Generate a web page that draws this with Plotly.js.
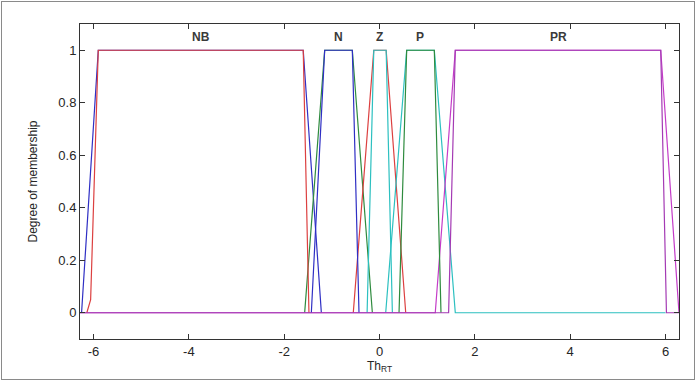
<!DOCTYPE html>
<html>
<head>
<meta charset="utf-8">
<script src="https://cdn.plot.ly/plotly-3.0.1.min.js"></script>
<style>
html,body{margin:0;padding:0;background:#fff;}
#wrap{position:relative;width:696px;height:381px;}
#chart{width:696px;height:381px;}
#frame{position:absolute;left:1px;top:1px;width:692px;height:377px;border:1px solid #8a8a8a;pointer-events:none;}
</style>
</head>
<body>
<div id="wrap"><div id="chart"></div><div id="frame"></div></div>
<script>
// Membership function names
const mfNames = ['NB', 'N', 'Z', 'P', 'PR'];

// Set A (wider slopes)
const nbA_x = [-6.25, -5.9, -1.6, -1.22];
const nbA_y = [0, 1, 1, 0];
const nA_x = [-1.57, -1.15, -0.57, -0.15];
const nA_y = [0, 1, 1, 0];
const zA_x = [-0.55, -0.12, 0.14, 0.55];
const zA_y = [0, 1, 1, 0];
const pA_x = [0.13, 0.57, 1.15, 1.59, 6.0];
const pA_y = [0, 1, 1, 0, 0];
const prA_x = [-6.2832, 1.17, 1.59, 5.9, 6.2832];
const prA_y = [0, 0, 1, 1, 0];

// Set B (narrower slopes)
const nbB_x = [-6.14, -6.06, -5.9, -1.6, -1.48];
const nbB_y = [0, 0.05, 1, 1, 0];
const nB_x = [-1.43, -1.15, -0.57, -0.43];
const nB_y = [0, 1, 1, 0];
const zB_x = [-0.26, -0.12, 0.14, 0.27];
const zB_y = [0, 1, 1, 0];
const pB_x = [0.41, 0.57, 1.15, 1.29];
const pB_y = [0, 1, 1, 0];
const prB_x = [-6.2832, 1.45, 1.59, 5.9, 6.02, 6.2832];
const prB_y = [0, 0, 1, 1, 0, 0];

const xTicks = [-6, -4, -2, 0, 2, 4, 6];
const yTicks = [0, 0.2, 0.4, 0.6, 0.8, 1];
const yTickText = ['0', '0.2', '0.4', '0.6', '0.8', '1'];

const colors = {
  blue: '#2f2fc4', green: '#2e8b3e', red: '#dc4040',
  cyan: '#2cc0c0', magenta: '#c43cc8', purple: '#a43ab4'
};

function tr(x, y, c) {
  return {x: x, y: y, type: 'scatter', mode: 'lines',
    line: {color: c, width: 1.2}, hoverinfo: 'skip', showlegend: false};
}

const traces = [
  tr(nbA_x, nbA_y, colors.blue),
  tr(nA_x, nA_y, colors.green),
  tr(zA_x, zA_y, colors.red),
  tr(pA_x, pA_y, colors.cyan),
  tr(prA_x, prA_y, colors.magenta),
  tr(nbB_x, nbB_y, colors.red),
  tr(nB_x, nB_y, colors.blue),
  tr(zB_x, zB_y, colors.cyan),
  tr(pB_x, pB_y, colors.green),
  tr(prB_x, prB_y, colors.purple)
];

// label at the middle of each plateau (set B)
const plateaus = [nbB_x.slice(2,4), nB_x.slice(1,3), zB_x.slice(1,3), pB_x.slice(1,3), prB_x.slice(2,4)];
const annotations = mfNames.map((n, i) => ({
  x: (plateaus[i][0] + plateaus[i][1]) / 2, y: 1.05, xref: 'x', yref: 'y',
  text: '<b>' + n + '</b>', showarrow: false,
  font: {family: 'Liberation Sans, Arial, sans-serif', size: 12, color: '#3a3a3a'}
}));

const layout = {
  width: 696, height: 381,
  margin: {l: 80, r: 17, t: 24, b: 42},
  paper_bgcolor: '#fff', plot_bgcolor: '#fff',
  font: {family: 'Liberation Sans, Arial, sans-serif', size: 13, color: '#262626'},
  xaxis: {
    range: [-6.2832, 6.2832], tickvals: xTicks, ticktext: xTicks.map(String),
    ticks: 'inside', ticklen: 5, tickcolor: '#333', showline: true, linecolor: '#333',
    linewidth: 1, mirror: 'ticks', showgrid: false, zeroline: false,
    title: {text: 'Th<sub>RT</sub>', font: {size: 12, color: '#262626'}, standoff: 3}
  },
  yaxis: {
    range: [-0.1, 1.1], tickvals: yTicks, ticktext: yTickText,
    ticks: 'inside', ticklen: 5, tickcolor: '#333', showline: true, linecolor: '#333',
    linewidth: 1, mirror: 'ticks', showgrid: false, zeroline: false,
    title: {text: 'Degree of membership', font: {size: 12, color: '#262626'}, standoff: 18}
  },
  annotations: annotations
};

Plotly.newPlot('chart', traces, layout, {staticPlot: true, displayModeBar: false});
</script>
</body>
</html>
